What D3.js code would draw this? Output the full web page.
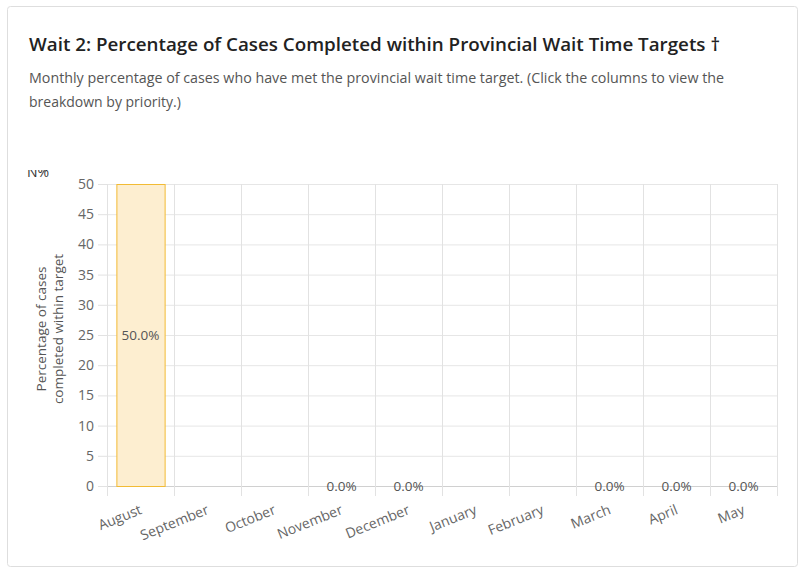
<!DOCTYPE html>
<html>
<head>
<meta charset="utf-8">
<script src="https://cdn.jsdelivr.net/npm/d3@7"></script>
<style>
  body { margin: 0; background: #fff; font-family: "Open Sans", "Noto Sans", sans-serif; }
  svg { display: block; }
</style>
</head>
<body>
<svg id="chart" width="807" height="573"></svg>
<script>
const months = ["August", "September", "October", "November", "December",
  "January", "February", "March", "April", "May"];
const pctMet = [50, null, null, 0, 0, null, null, 0, 0, 0];
const yTicks = [0, 5, 10, 15, 20, 25, 30, 35, 40, 45, 50];

const svg = d3.select("#chart");
const margin = { top: 184, right: 30, bottom: 87, left: 107 };
const W = 807, H = 573;

// card
svg.append("rect")
  .attr("x", 7.5).attr("y", 6.5)
  .attr("width", 790).attr("height", 560)
  .attr("rx", 3)
  .attr("fill", "#fff").attr("stroke", "#dedede");

const title = svg.append("text")
  .attr("x", 29).attr("y", 51)
  .attr("fill", "#222")
  .style("font-size", "18.5px").style("font-weight", 600)
  .text("Wait 2: Percentage of Cases Completed within Provincial Wait Time Targets \u2020");

const sub1 = svg.append("text")
  .attr("x", 29).attr("y", 83)
  .attr("fill", "#555").style("font-size", "14px")
  .text("Monthly percentage of cases who have met the provincial wait time target. (Click the columns to view the");
svg.append("text")
  .attr("x", 29).attr("y", 107)
  .attr("fill", "#555").style("font-size", "14px")
  .text("breakdown by priority.)");

// stretch the header to the reference widths
const fit = (sel, w) => sel.attr("textLength", w).attr("lengthAdjust", "spacingAndGlyphs");
fit(title, 691);
fit(sub1, 695);

const x = d3.scaleBand()
  .domain(months)
  .range([margin.left, W - margin.right]);

const y = d3.scaleLinear()
  .domain([0, 50])
  .range([H - margin.bottom, margin.top]);

// horizontal grid + y labels
const yAxis = svg.append("g")
  .attr("transform", `translate(${margin.left},0)`)
  .call(d3.axisLeft(y).tickValues(yTicks).tickSize(9).tickPadding(4)
    .tickFormat(d3.format("d")));
yAxis.select(".domain").remove();
yAxis.selectAll("line").attr("stroke", "#e2e2e2");
yAxis.selectAll("text").attr("fill", "#666").style("font-size", "14px")
  .style("font-family", "'Open Sans', sans-serif");

svg.append("g")
  .selectAll("line")
  .data(yTicks)
  .join("line")
  .attr("x1", margin.left).attr("x2", W - margin.right)
  .attr("y1", (d) => y(d) + 0.5).attr("y2", (d) => y(d) + 0.5)
  .attr("stroke", (d) => (d === 0 ? "#d0d0d0" : "#e6e6e6"));

// vertical grid at band edges
const edges = months.map((m) => x(m)).concat([W - margin.right]);
svg.append("g")
  .selectAll("line")
  .data(edges)
  .join("line")
  .attr("x1", (d) => d + 0.5).attr("x2", (d) => d + 0.5)
  .attr("y1", margin.top).attr("y2", H - margin.bottom + 10)
  .attr("stroke", "#e2e2e2");

// bars
const rows = months.map((m, i) => ({ month: m, value: pctMet[i] }));
const barW = x.bandwidth() * 0.72;
svg.append("g")
  .selectAll("rect")
  .data(rows.filter((d) => d.value))
  .join("rect")
  .attr("x", (d) => x(d.month) + (x.bandwidth() - barW) / 2 + 0.5)
  .attr("y", (d) => y(d.value) + 0.5)
  .attr("width", barW)
  .attr("height", (d) => y(0) - y(d.value))
  .attr("fill", "#fdeed0")
  .attr("stroke", "#f2bb34");

// value labels
svg.append("g")
  .selectAll("text")
  .data(rows.filter((d) => d.value !== null))
  .join("text")
  .attr("x", (d) => x(d.month) + x.bandwidth() / 2)
  .attr("y", (d) => (y(d.value) + y(0)) / 2 + 5)
  .attr("text-anchor", "middle")
  .attr("fill", "#555")
  .style("font-size", "13.5px")
  .text((d) => d.value.toFixed(1) + "%");

// x labels
svg.append("g")
  .selectAll("text")
  .data(months)
  .join("text")
  .attr("transform", (d) => `translate(${x(d) + x.bandwidth() / 2 - 2},${H - margin.bottom + 17}) rotate(-22)`)
  .attr("text-anchor", "end")
  .attr("dy", "0.8em")
  .attr("fill", "#666")
  .style("font-size", "14px")
  .text((d) => d);

// y axis title
const yt = svg.append("text")
  .attr("transform", `translate(46,329) rotate(-90)`)
  .attr("text-anchor", "middle")
  .attr("fill", "#555")
  .style("font-size", "13.5px");
yt.append("tspan").attr("x", 0).attr("dy", 0).text("Percentage of cases");
yt.append("tspan").attr("x", 0).attr("dy", "17").text("completed within target");

// clipped unit label above the axis
svg.append("clipPath").attr("id", "nclip")
  .append("rect").attr("x", 20).attr("y", 170).attr("width", 60).attr("height", 10);
svg.append("text")
  .attr("x", 27).attr("y", 177)
  .attr("clip-path", "url(#nclip)")
  .attr("fill", "#333")
  .style("font-size", "14px")
  .text("N%");
</script>
</body>
</html>
